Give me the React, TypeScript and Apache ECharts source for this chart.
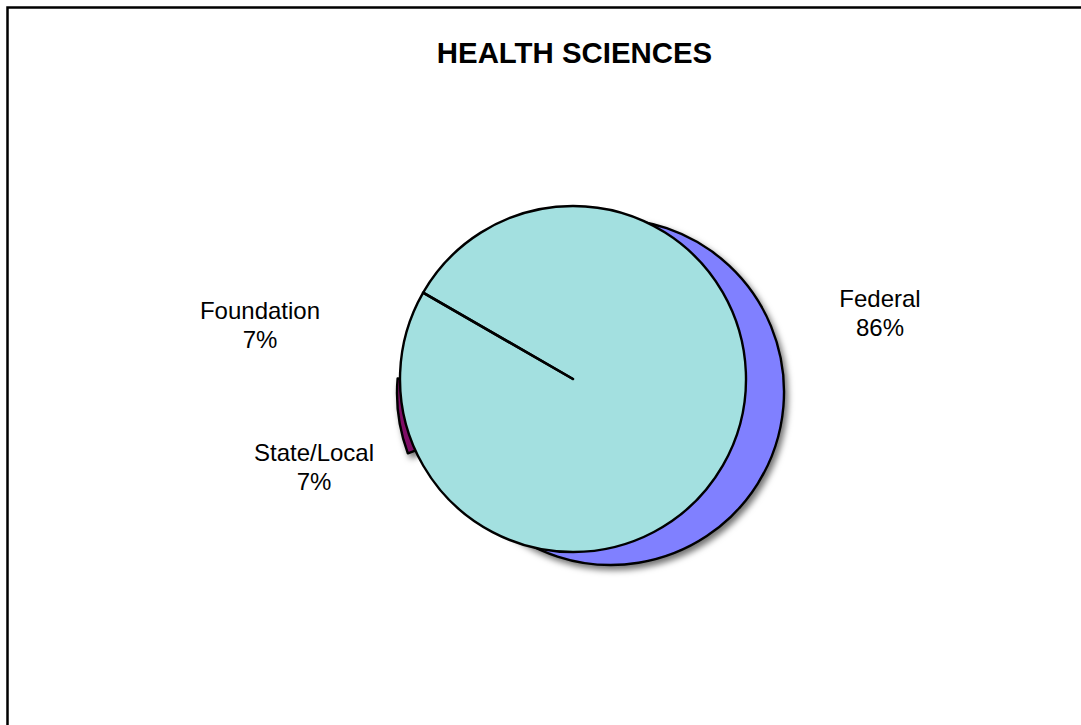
import React, { useEffect, useRef } from "react";
import * as echarts from "echarts";

const titleText = "HEALTH SCIENCES";
const categories = ["Federal", "Foundation", "State/Local"];
const shares = [86, 7, 7];
const frontSliver = 0.03; // the front disc is nearly whole; only its one edge shows as a spoke
const colors = { federal: "#8080FF", front: "#A3E0E0", state: "#7F0F66" };

const pct = (i: number) => `${categories[i]}\n${shares[i]}%`;

export default function App() {
  const ref = useRef<HTMLDivElement>(null);
  useEffect(() => {
    document.body.style.margin = "0";
    const chart = echarts.init(ref.current!, undefined, { renderer: "svg" });
    const border = { borderColor: "#000", borderWidth: 2.4 };
    const shadow = { shadowColor: "rgba(0,0,0,0.55)", shadowBlur: 6, shadowOffsetX: 3, shadowOffsetY: 4 };
    const hidden = { color: "transparent", borderWidth: 0 };
    const base = {
      type: "pie",
      radius: [0, 173],
      clockwise: true,
      silent: true,
      label: { show: false },
      labelLine: { show: false },
      emphasis: { disabled: true },
    };
    const label = (text: string, x: number, y: number) => ({
      type: "text",
      x,
      y,
      silent: true,
      style: {
        text,
        x: 0,
        y: 0,
        fill: "#000",
        font: "24px 'Liberation Sans', Arial, sans-serif",
        textAlign: "center",
        textVerticalAlign: "top",
        lineHeight: 29,
      },
    });
    chart.setOption({
      animation: false,
      backgroundColor: "#fff",
      title: {
        text: titleText,
        left: 569.5,
        top: 33,
        textAlign: "center",
        textStyle: { fontFamily: "'Liberation Sans', Arial, sans-serif", fontWeight: "bold", fontSize: 29.4, color: "#000" },
      },
      series: [
        {
          ...base,
          name: "Federal",
          center: [611, 392],
          startAngle: 150,
          z: 1,
          data: [
            { name: categories[0], value: shares[0], itemStyle: { color: colors.federal, ...border, ...shadow } },
            { name: "rest", value: shares[1] + shares[2], itemStyle: hidden },
          ],
        },
        {
          ...base,
          name: "State/Local",
          center: [570, 393],
          startAngle: 200.4,
          z: 2,
          data: [
            { name: categories[2], value: shares[2], itemStyle: { color: colors.state, ...border, ...shadow } },
            { name: "rest", value: shares[0] + shares[1], itemStyle: hidden },
          ],
        },
        {
          ...base,
          name: "Front",
          center: [573, 379],
          startAngle: 150,
          z: 3,
          data: [
            { name: "front", value: 100 - frontSliver, itemStyle: { color: colors.front, ...border } },
            { name: "edge", value: frontSliver, itemStyle: { color: colors.front, ...border } },
          ],
        },
      ],
      graphic: [
        {
          type: "polyline",
          silent: true,
          shape: { points: [[7.5, 725], [7.5, 7.5], [1081, 7.5]] },
          style: { stroke: "#000", lineWidth: 2.5, fill: "none" },
        },
        label(pct(0), 880, 284),
        label(pct(1), 260, 296),
        label(pct(2), 314, 438),
      ],
    });
    return () => chart.dispose();
  }, []);
  return <div ref={ref} style={{ position: "absolute", left: 0, top: 0, width: 1081, height: 725 }} />;
}
